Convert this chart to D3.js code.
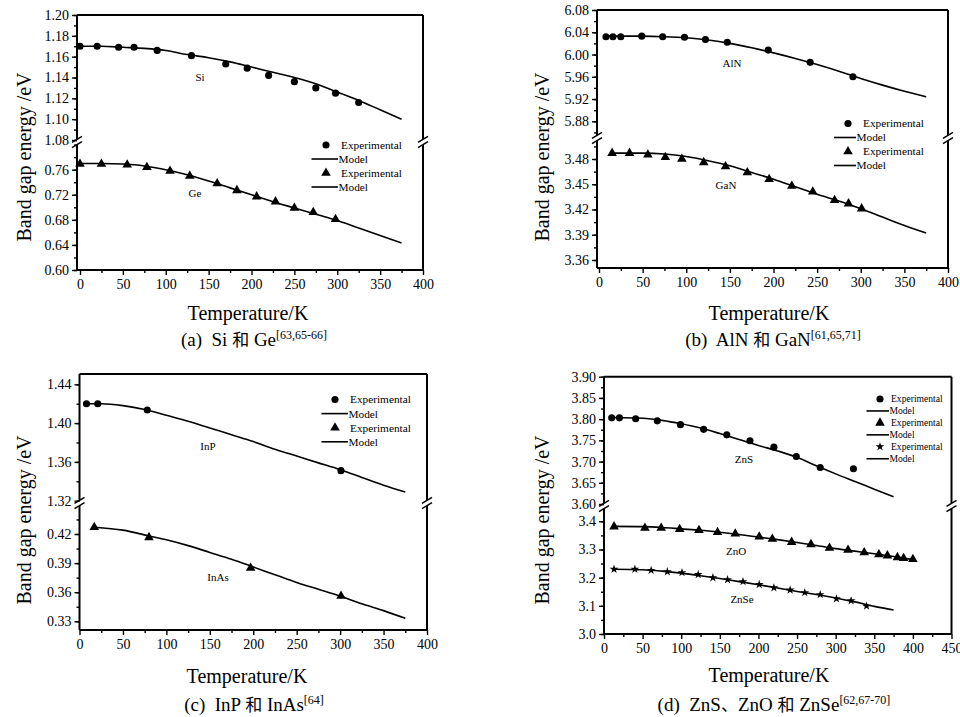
<!DOCTYPE html>
<html>
<head>
<meta charset="utf-8">
<script src="https://cdn.jsdelivr.net/npm/d3@7"></script>
<style>
	body{margin:0;background:#fff;}
	svg{display:block;}
	text{font-family:"Liberation Serif",Tinos,"Times New Roman",Times,"DejaVu Serif",serif;fill:#000;}
	.cjk{font-family:"Noto Sans CJK SC","Noto Sans CJK JP",sans-serif;}
</style>
</head>
<body>
<svg id="chart" width="960" height="717"></svg>
<script>
//Data (T in K, E in eV)
var siExpT = [0,20,45,63,90,130,170,195,220,250,275,298,325];
var siExpE = [1.170,1.170,1.169,1.169,1.166,1.161,1.153,1.149,1.142,1.136,1.130,1.125,1.116];
var siModelT = [0,25,50,75,100,125,150,175,200,225,250,275,300,325,350,375];
var siModelE = [1.170,1.170,1.169,1.168,1.166,1.162,1.159,1.155,1.150,1.145,1.140,1.134,1.126,1.118,1.109,1.100];

var geExpT = [0,25,55,78,105,128,160,183,206,228,250,272,298];
var geExpE = [0.769,0.769,0.768,0.764,0.758,0.750,0.738,0.727,0.717,0.709,0.699,0.692,0.681];
var geModelT = [0,25,50,75,100,125,150,175,200,225,250,275,300,325,350,375];
var geModelE = [0.770,0.770,0.769,0.766,0.760,0.752,0.742,0.731,0.720,0.709,0.699,0.689,0.679,0.667,0.655,0.643];

var alnExpT = [8,16,25,49,73,98,122,147,194,242,291];
var alnExpE = [6.032,6.032,6.032,6.033,6.032,6.031,6.027,6.022,6.008,5.986,5.960];
var alnModelT = [8,25,50,75,100,125,150,175,200,225,250,275,300,325,350,375];
var alnModelE = [6.033,6.033,6.033,6.032,6.030,6.026,6.020,6.012,6.003,5.993,5.982,5.970,5.957,5.945,5.934,5.924];

var ganExpT = [15,35,56,76,95,120,145,170,195,221,245,270,286,301];
var ganExpE = [3.487,3.487,3.485,3.482,3.480,3.476,3.471,3.464,3.456,3.448,3.441,3.431,3.427,3.421];
var ganModelT = [15,50,75,100,125,150,175,200,225,250,275,300,325,350,375];
var ganModelE = [3.487,3.487,3.486,3.483,3.478,3.472,3.464,3.456,3.447,3.438,3.430,3.421,3.411,3.401,3.392];

var inpExpT = [8,21,78,301];
var inpExpE = [1.420,1.420,1.4135,1.351];
var inpModelT = [8,25,50,75,100,125,150,175,200,225,250,275,300,325,350,375];
var inpModelE = [1.420,1.420,1.418,1.414,1.408,1.402,1.395,1.388,1.381,1.373,1.366,1.359,1.352,1.344,1.336,1.329];

var inasExpT = [17,80,197,301];
var inasExpE = [0.427,0.4165,0.385,0.356];
var inasModelT = [17,50,80,100,125,150,175,200,225,250,275,300,325,350,375];
var inasModelE = [0.427,0.424,0.418,0.414,0.408,0.401,0.394,0.386,0.378,0.370,0.363,0.356,0.348,0.341,0.333];

var znsExpT = [10,20,41,69,99,129,159,189,220,249,280,323];
var znsExpE = [3.803,3.803,3.801,3.796,3.787,3.776,3.763,3.749,3.734,3.712,3.686,3.683];
var znsModelT = [10,50,75,100,125,150,175,200,225,250,275,300,325,350,375];
var znsModelE = [3.804,3.802,3.797,3.789,3.779,3.766,3.752,3.738,3.725,3.710,3.690,3.671,3.653,3.635,3.617];

var znoExpT = [13,53,74,98,123,147,170,201,218,243,268,292,316,337,356,367,380,388,400];
var znoExpE = [3.381,3.376,3.376,3.372,3.368,3.361,3.356,3.345,3.337,3.326,3.318,3.305,3.298,3.289,3.282,3.278,3.272,3.269,3.265];
var znoModelT = [13,50,75,100,125,150,175,200,225,250,275,300,325,350,375,400];
var znoModelE = [3.382,3.381,3.378,3.373,3.368,3.361,3.353,3.344,3.335,3.325,3.314,3.303,3.294,3.285,3.275,3.264];

var znseExpT = [13,40,61,82,101,122,141,160,180,201,220,241,260,280,301,320,340];
var znseExpE = [3.230,3.230,3.226,3.221,3.218,3.211,3.200,3.193,3.186,3.176,3.164,3.156,3.147,3.140,3.125,3.118,3.099];
var znseModelT = [13,50,75,100,125,150,175,200,225,250,275,300,325,350,375];
var znseModelE = [3.230,3.228,3.223,3.216,3.207,3.197,3.186,3.175,3.163,3.151,3.140,3.128,3.114,3.098,3.085];

//Tick labels
var xTicks400 = [0,50,100,150,200,250,300,350,400];
var xTicks450 = [0,50,100,150,200,250,300,350,400,450];
var yTicksSi = [1.08,1.10,1.12,1.14,1.16,1.18,1.20];
var yTicksGe = [0.60,0.64,0.68,0.72,0.76];
var yTicksAlN = [5.88,5.92,5.96,6.00,6.04,6.08];
var yTicksGaN = [3.36,3.39,3.42,3.45,3.48];
var yTicksInP = [1.32,1.36,1.40,1.44];
var yTicksInAs = [0.33,0.36,0.39,0.42];
var yTicksZnS = [3.60,3.65,3.70,3.75,3.80,3.85,3.90];
var yTicksZnO = [3.0,3.1,3.2,3.3,3.4];

var svg = d3.select("#chart");

function translate(x, y)
{
	return "translate(" + x + "," + y + ")";
}

function zip(a, b)
{
	return a.map(function(d, i){return [d, b[i]];});
}

var symbolTypes = {circle: d3.symbolCircle, triangle: d3.symbolTriangle, star: d3.symbolStar};
var symbolSizes = {circle: 40, triangle: 40, star: 24};

function drawPanel(p)
{
	var f = p.frame;
	var g = svg.append("g").attr("class", "panel");

	var x = d3.scaleLinear().domain(p.x.domain).range(p.x.range);
	var segs = {};
	["top", "bottom"].forEach(function(k){
		var s = p[k];
		segs[k] = d3.scaleLinear().domain(s.domain).range(s.range);
	});

	//axes
	var xMinor = d3.range(p.x.domain[0], p.x.domain[1] + 1, 25).filter(function(v){return v % 50;});
	g.append("g")
		.attr("transform", translate(0, f.b))
		.call(d3.axisBottom(x).tickValues(xMinor).tickSize(3).tickFormat(""))
		.call(function(s){s.select(".domain").remove();});
	g.append("g")
		.attr("transform", translate(0, f.b))
		.call(d3.axisBottom(x).tickValues(p.x.ticks).tickSize(5).tickPadding(4).tickFormat(d3.format("d")))
		.call(function(s){s.select(".domain").remove();})
		.attr("font-size", 14).attr("font-family", null);

	["top", "bottom"].forEach(function(k){
		var s = p[k], y = segs[k];
		var inside = function(v){var py = y(v); return py >= s.extent[0] - 0.5 && py <= s.extent[1] + 0.5;};
		var minor = d3.range(s.domain[0] - 5 * s.minor, s.domain[1] + 5 * s.minor, s.minor)
			.map(function(v){return +v.toFixed(4);}).filter(inside);
		g.append("g")
			.attr("transform", translate(f.l, 0))
			.call(d3.axisLeft(y).tickValues(minor).tickSize(3).tickFormat(""))
			.call(function(sel){sel.select(".domain").remove();});
		g.append("g")
			.attr("transform", translate(f.l, 0))
			.call(d3.axisLeft(y).tickValues(s.ticks).tickSize(5).tickPadding(3).tickFormat(d3.format(s.fmt)))
			.call(function(sel){sel.select(".domain").remove();})
			.attr("font-size", 14).attr("font-family", null);
	});
	g.selectAll(".tick line").attr("stroke-width", 1.4);

	//frame with broken sides
	var fr = g.append("g").attr("stroke", "#000").attr("stroke-width", 2).attr("fill", "none");
	[[f.l, f.t, f.r, f.t], [f.l, f.b, f.r, f.b],
	 [f.l, f.t, f.l, p.breakY - 3], [f.l, p.breakY + 3, f.l, f.b],
	 [f.r, f.t, f.r, p.breakY - 3], [f.r, p.breakY + 3, f.r, f.b]].forEach(function(c){
		fr.append("line").attr("x1", c[0]).attr("y1", c[1]).attr("x2", c[2]).attr("y2", c[3]);
	});
	[f.l, f.r].forEach(function(bx){
		[-2.6, 2.6].forEach(function(o){
			fr.append("line")
				.attr("stroke-width", 1.5)
				.attr("x1", bx - 5).attr("y1", p.breakY + o + 3)
				.attr("x2", bx + 5).attr("y2", p.breakY + o - 3);
		});
	});

	//series
	var line = d3.line().curve(d3.curveMonotoneX);
	p.series.forEach(function(s){
		var y = segs[s.seg];
		g.append("path")
			.attr("d", line(zip(s.mT, s.mE).map(function(d){return [x(d[0]), y(d[1])];})))
			.attr("fill", "none")
			.attr("stroke", "#000")
			.attr("stroke-width", 1.6);
		g.selectAll(null)
			.data(zip(s.T, s.E))
			.enter().append("path")
				.attr("transform", function(d){return translate(x(d[0]), y(d[1]));})
				.attr("d", d3.symbol().type(symbolTypes[s.symbol]).size(symbolSizes[s.symbol]))
				.attr("fill", "#000");
		g.append("text")
			.attr("x", s.label[1]).attr("y", s.label[2])
			.attr("text-anchor", "middle")
			.attr("dy", "0.35em")
			.attr("font-size", 11)
			.text(s.label[0]);
	});

	//legend
	var L = p.legend;
	p.series.forEach(function(s, i){
		var ye = L.y0 + i * 2 * L.dy, ym = ye + L.dy;
		g.append("path")
			.attr("transform", translate(L.mx, ye))
			.attr("d", d3.symbol().type(symbolTypes[s.symbol]).size(symbolSizes[s.symbol]))
			.attr("fill", "#000");
		g.append("text").attr("x", L.tx).attr("y", ye).attr("dy", "0.35em")
			.attr("font-size", L.fs).text("Experimental");
		g.append("line")
			.attr("x1", L.x1).attr("x2", L.x2).attr("y1", ym).attr("y2", ym)
			.attr("stroke", "#000").attr("stroke-width", 1.6);
		g.append("text").attr("x", L.x2 + 0.5).attr("y", ym).attr("dy", "0.35em")
			.attr("font-size", L.fs).text("Model");
	});

	//titles
	g.append("text")
		.attr("x", p.xTitle[0]).attr("y", p.xTitle[1])
		.attr("text-anchor", "middle")
		.attr("font-size", 20)
		.text("Temperature/K");
	g.append("text")
		.attr("transform", translate(p.yTitle[0], p.yTitle[1]) + " rotate(-90)")
		.attr("text-anchor", "middle")
		.attr("font-size", 20)
		.text("Band gap energy /eV");

	//caption: latin parts in serif, 和 and 、 in CJK
	var cap = g.append("text")
		.attr("x", p.caption.x).attr("y", p.caption.y)
		.attr("text-anchor", "middle")
		.attr("font-size", 19)
		.attr("xml:space", "preserve");
	p.caption.parts.forEach(function(t){
		var ts = cap.append("tspan").text(t);
		if(/[\u3000-\u9fff]/.test(t)) ts.attr("class", "cjk").attr("font-size", 17);
	});
	cap.append("tspan").attr("font-size", 12).attr("dy", -7).text(p.caption.sup);
}

var panels = [
	{
		frame: {l: 77, r: 423, t: 15, b: 270},
		x: {domain: [0, 400], range: [80, 423], ticks: xTicks400},
		breakY: 142,
		top: {domain: [1.08, 1.20], range: [140, 15], ticks: yTicksSi, minor: 0.01, fmt: ".2f", extent: [15, 141]},
		bottom: {domain: [0.60, 0.76], range: [270, 169.7], ticks: yTicksGe, minor: 0.02, fmt: ".2f", extent: [145, 270]},
		series: [
			{seg: "top", T: siExpT, E: siExpE, mT: siModelT, mE: siModelE, symbol: "circle", label: ["Si", 200, 77]},
			{seg: "bottom", T: geExpT, E: geExpE, mT: geModelT, mE: geModelE, symbol: "triangle", label: ["Ge", 195, 193]}
		],
		legend: {y0: 145, dy: 14, mx: 326, x1: 311.5, x2: 338, tx: 341, fs: 11.3},
		xTitle: [248, 320],
		yTitle: [31, 157],
		caption: {x: 254, y: 346, parts: ["(a)  Si ", "和", " Ge"], sup: "[63,65-66]"}
	},
	{
		frame: {l: 597, r: 948, t: 10, b: 268},
		x: {domain: [0, 400], range: [599, 948], ticks: xTicks400},
		breakY: 138,
		top: {domain: [5.88, 6.08], range: [121.3, 10], ticks: yTicksAlN, minor: 0.02, fmt: ".2f", extent: [10, 136]},
		bottom: {domain: [3.36, 3.48], range: [260, 159], ticks: yTicksGaN, minor: 0.015, fmt: ".2f", extent: [141, 268]},
		series: [
			{seg: "top", T: alnExpT, E: alnExpE, mT: alnModelT, mE: alnModelE, symbol: "circle", label: ["AlN", 732, 63]},
			{seg: "bottom", T: ganExpT, E: ganExpE, mT: ganModelT, mE: ganModelE, symbol: "triangle", label: ["GaN", 726, 185]}
		],
		legend: {y0: 123.5, dy: 14, mx: 848, x1: 834, x2: 856, tx: 863, fs: 11.3},
		xTitle: [769, 320],
		yTitle: [549, 157],
		caption: {x: 773, y: 346, parts: ["(b)  AlN ", "和", " GaN"], sup: "[61,65,71]"}
	},
	{
		frame: {l: 79.5, r: 427, t: 374, b: 630},
		x: {domain: [0, 400], range: [79.5, 427], ticks: xTicks400},
		breakY: 503,
		top: {domain: [1.32, 1.44], range: [500.7, 384.3], ticks: yTicksInP, minor: 0.02, fmt: ".2f", extent: [374, 501]},
		bottom: {domain: [0.33, 0.42], range: [621.3, 534], ticks: yTicksInAs, minor: 0.015, fmt: ".2f", extent: [507, 630]},
		series: [
			{seg: "top", T: inpExpT, E: inpExpE, mT: inpModelT, mE: inpModelE, symbol: "circle", label: ["InP", 208, 446]},
			{seg: "bottom", T: inasExpT, E: inasExpE, mT: inasModelT, mE: inasModelE, symbol: "triangle", label: ["InAs", 218, 577]}
		],
		legend: {y0: 399.5, dy: 14.1, mx: 335, x1: 321.5, x2: 348, tx: 350, fs: 11.3},
		xTitle: [247, 683],
		yTitle: [31, 520],
		caption: {x: 254, y: 711, parts: ["(c)  InP ", "和", " InAs"], sup: "[64]"}
	},
	{
		frame: {l: 604, r: 951.5, t: 376.7, b: 634},
		x: {domain: [0, 450], range: [604, 951.5], ticks: xTicks450},
		breakY: 506,
		top: {domain: [3.60, 3.90], range: [504, 376.7], ticks: yTicksZnS, minor: 0.025, fmt: ".2f", extent: [376.7, 504]},
		bottom: {domain: [3.0, 3.4], range: [634, 521.3], ticks: yTicksZnO, minor: 0.05, fmt: ".1f", extent: [510, 634]},
		series: [
			{seg: "top", T: znsExpT, E: znsExpE, mT: znsModelT, mE: znsModelE, symbol: "circle", label: ["ZnS", 744, 459]},
			{seg: "bottom", T: znoExpT, E: znoExpE, mT: znoModelT, mE: znoModelE, symbol: "triangle", label: ["ZnO", 736, 551]},
			{seg: "bottom", T: znseExpT, E: znseExpE, mT: znseModelT, mE: znseModelE, symbol: "star", label: ["ZnSe", 742, 599]}
		],
		legend: {y0: 399, dy: 11.95, mx: 880, x1: 866.5, x2: 889, tx: 891, fs: 9.6},
		xTitle: [769, 682],
		yTitle: [549, 520],
		caption: {x: 774, y: 711, parts: ["(d)  ZnS", "、", "ZnO ", "和", " ZnSe"], sup: "[62,67-70]"}
	}
];

panels.forEach(drawPanel);
</script>
</body>
</html>
